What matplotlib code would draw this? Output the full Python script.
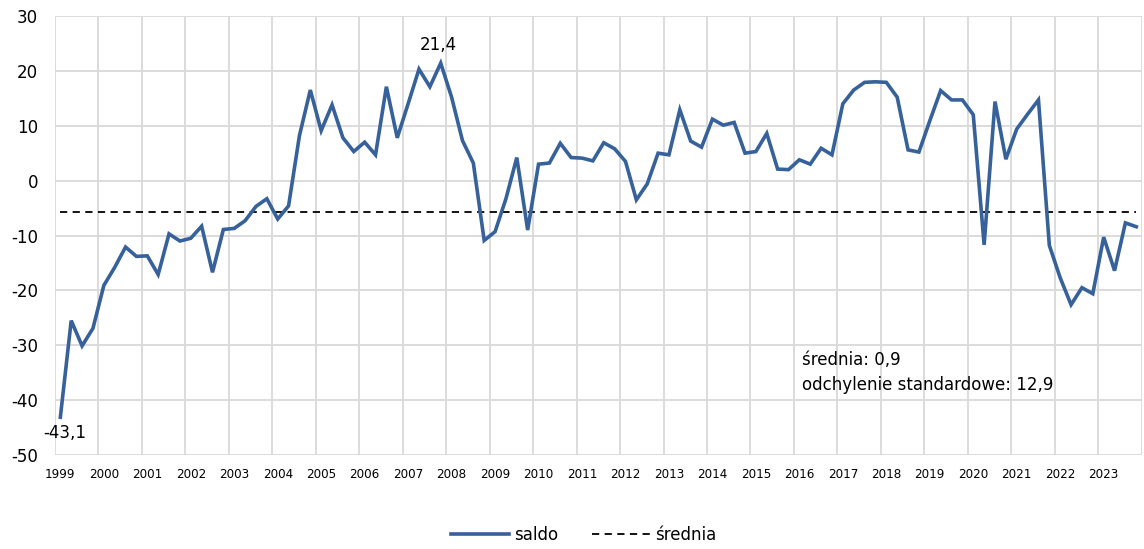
import numpy as np
import matplotlib
matplotlib.use("Agg")
import matplotlib.pyplot as plt

# kwartalne saldo 1999Q1 - 2023Q4
years = list(range(1999, 2024))
saldo = [
    -43.1, -25.5, -30.1, -26.9,
    -19.1, -15.8, -12.1, -13.8,
    -13.7, -17.1, -9.7, -11.0,
    -10.5, -8.3, -16.7, -8.9,
    -8.7, -7.3, -4.7, -3.3,
    -7.0, -4.6, 8.2, 16.5,
    9.1, 13.8, 7.8, 5.3,
    7.0, 4.7, 17.1, 7.8,
    14.0, 20.3, 17.1, 21.4,
    15.2, 7.3, 3.2, -10.9,
    -9.3, -3.3, 4.2, -9.0,
    3.0, 3.2, 6.8, 4.2,
    4.1, 3.6, 6.9, 5.8,
    3.5, -3.5, -0.6, 5.0,
    4.7, 12.9, 7.2, 6.1,
    11.2, 10.1, 10.6, 5.0,
    5.3, 8.6, 2.1, 2.0,
    3.8, 3.0, 5.9, 4.7,
    14.0, 16.5, 17.9, 18.0,
    17.9, 15.2, 5.6, 5.2,
    10.9, 16.4, 14.7, 14.7,
    12.0, -11.7, 14.4, 3.9,
    9.4, 12.1, 14.7, -11.8,
    -17.7, -22.6, -19.5, -20.6,
    -10.3, -16.4, -7.7, -8.4,
]
srednia = -5.7
stat_text = "średnia: 0,9\nodchylenie standardowe: 12,9"

plt.rcParams['font.family'] = ['DejaVu Sans']
plt.rcParams['axes.unicode_minus'] = False

fig = plt.figure(figsize=(11.44, 5.49), dpi=100)
ax = fig.add_axes([0.048, 0.171, 0.95, 0.80])

x = np.arange(len(saldo))
ax.plot(x, saldo, color='#36619A', lw=2.6, label='saldo', solid_joinstyle='miter', zorder=3)
ax.plot(x, np.full(len(saldo), srednia), color='black', lw=1.3, ls=(0, (4, 3)),
        label='średnia', zorder=2)

ax.set_xlim(-0.5, len(saldo) - 0.5)
ax.set_ylim(-50, 30)
ax.set_yticks(range(-50, 31, 10))

# grid at year boundaries, labels at first quarter of each year
ax.set_xticks(np.arange(len(years) + 1) * 4 - 0.5, minor=True)
ax.set_xticks(np.arange(len(years)) * 4)
ax.set_xticklabels([str(y) for y in years], fontsize=9.5, fontstretch='condensed')
ax.grid(True, which='minor', axis='x', color='#d9d9d9', lw=1.3)
ax.grid(True, which='major', axis='y', color='#d9d9d9', lw=1.3)
ax.set_axisbelow(True)
ax.tick_params(axis='both', which='both', length=0)
ax.tick_params(axis='y', labelsize=12, pad=12)
ax.tick_params(axis='x', pad=9)
for s in ax.spines.values():
    s.set_visible(False)

i_min = int(np.argmin(saldo))
i_max = int(np.argmax(saldo))
ax.annotate(f"{saldo[i_min]:.1f}".replace('.', ','), (i_min, saldo[i_min]),
            xytext=(3, -11), textcoords='offset points', ha='center', va='center', fontsize=12)
ax.annotate(f"{saldo[i_max]:.1f}".replace('.', ','), (i_max, saldo[i_max]),
            xytext=(-2, 13), textcoords='offset points', ha='center', va='center', fontsize=12)

ax.text(68.2, -31, stat_text, ha='left', va='top', fontsize=12, linespacing=1.5)

leg = fig.legend(loc='center', bbox_to_anchor=(0.51, 0.025), ncol=2, frameon=False,
                 fontsize=12, handlelength=3.5, columnspacing=2.0, handletextpad=0.3)

fig.savefig('out.png', dpi=100)
